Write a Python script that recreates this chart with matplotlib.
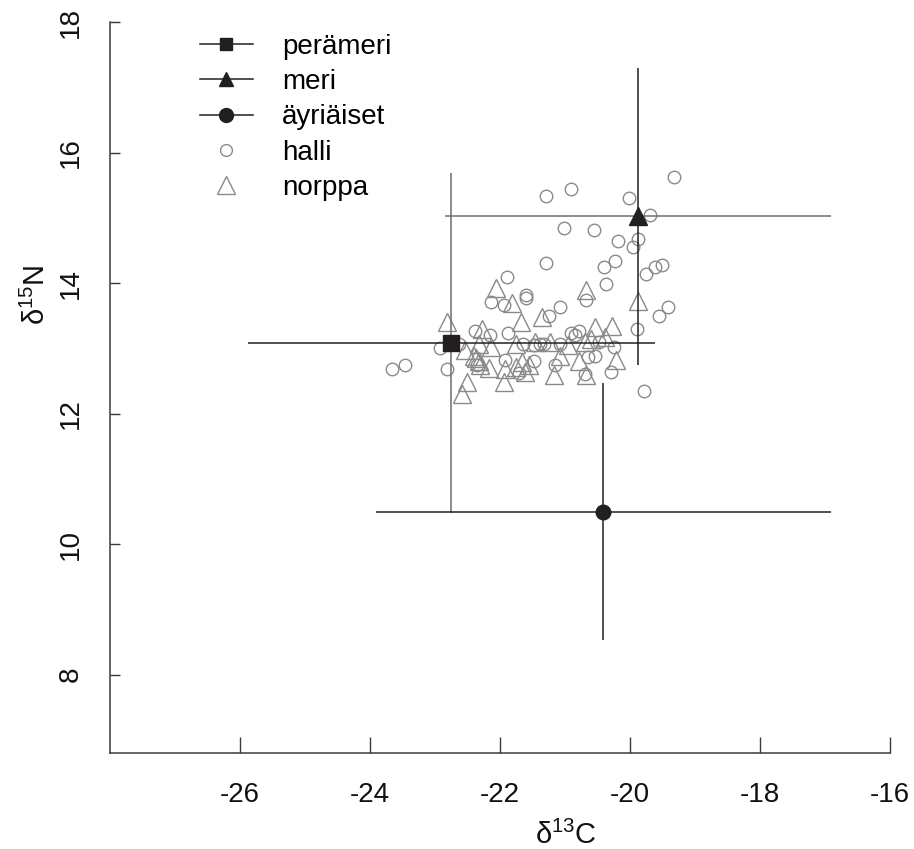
import matplotlib
matplotlib.use("Agg")
import matplotlib.pyplot as plt
from matplotlib.lines import Line2D

plt.rcParams['font.family'] = ['Liberation Sans', 'DejaVu Sans']

# ---- data ----
halli_x = [-19.33, -20.90, -21.29, -20.01, -19.69, -21.02, -20.55, -20.18, -19.87, -19.96,
           -21.29, -20.40, -20.23, -19.75, -19.62, -19.50, -21.89, -20.37, -21.60, -21.60,
           -22.14, -21.94, -20.68, -21.07, -21.24, -19.42, -19.56, -22.39, -22.16, -21.88,
           -19.89, -20.90, -20.79, -20.84, -22.93, -22.63, -21.64, -21.48, -21.38, -21.32,
           -21.07, -20.48, -20.25, -23.66, -23.46, -22.81, -21.93, -21.48, -21.15, -20.65,
           -20.54, -20.29, -21.71, -19.78, -22.35, -20.69]
halli_y = [15.62, 15.44, 15.33, 15.31, 15.05, 14.85, 14.81, 14.65, 14.68, 14.56,
           14.31, 14.25, 14.34, 14.14, 14.25, 14.27, 14.10, 13.99, 13.82, 13.77,
           13.71, 13.66, 13.74, 13.63, 13.49, 13.63, 13.49, 13.26, 13.21, 13.23,
           13.29, 13.23, 13.27, 13.20, 13.00, 13.06, 13.06, 13.05, 13.07, 13.06,
           13.07, 13.09, 13.02, 12.68, 12.74, 12.68, 12.82, 12.80, 12.75, 12.86,
           12.89, 12.63, 12.62, 12.35, 12.75, 12.61]

norppa_x = [-22.06, -21.81, -20.67, -22.82, -21.67, -21.36, -19.87, -22.27, -20.54, -20.28,
            -22.54, -22.33, -22.14, -21.76, -21.46, -21.23, -20.69, -20.38, -22.40, -22.33,
            -22.17, -21.92, -21.76, -21.66, -21.61, -21.07, -20.79, -20.21, -21.17, -20.68,
            -22.50, -21.94, -22.59, -22.37, -22.30, -21.55, -20.95, -20.60]
norppa_y = [13.93, 13.69, 13.89, 13.41, 13.41, 13.48, 13.73, 13.30, 13.33, 13.34,
            12.98, 13.07, 13.02, 13.07, 13.10, 13.10, 13.10, 13.17, 12.89, 12.80,
            12.70, 12.69, 12.71, 12.79, 12.63, 12.88, 12.80, 12.82, 12.59, 12.59,
            12.48, 12.48, 12.30, 12.85, 12.75, 12.75, 13.05, 13.15]

mean_names = ['perämeri', 'meri', 'äyriäiset']
mean_x = [-22.75, -19.87, -20.41]
mean_y = [13.08, 15.02, 10.50]
sd_x = [3.13, 2.97, 3.50]
sd_y = [2.61, 2.27, 1.97]
mean_markers = ['s', '^', 'o']
mean_msize = [11, 13, 10.5]

xticks = [-26, -24, -22, -20, -18, -16]
yticks = [8, 10, 12, 14, 16, 18]

# ---- figure ----
fig = plt.figure(figsize=(9.14, 8.49), dpi=100)
ax = fig.add_axes([110/914, 1-753/849, 780/914, 731/849])

dark = '#231f20'
gray = '#6d6e71'
pt_gray = '#8a8a8a'

ax.plot(halli_x, halli_y, linestyle='none', marker='o', markersize=9,
        markerfacecolor='none', markeredgecolor=pt_gray, markeredgewidth=1.0, zorder=2)
ax.plot(norppa_x, norppa_y, linestyle='none', marker='^', markersize=12.5,
        markerfacecolor='none', markeredgecolor=pt_gray, markeredgewidth=1.0, zorder=2)

xcols = [dark, gray, dark]
ycols = [gray, dark, dark]
for i in range(3):
    ax.errorbar(mean_x[i], mean_y[i], xerr=sd_x[i], fmt='none', ecolor=xcols[i],
                elinewidth=1.1, capsize=0, zorder=3)
    ax.errorbar(mean_x[i], mean_y[i], yerr=sd_y[i], fmt='none', ecolor=ycols[i],
                elinewidth=1.1, capsize=0, zorder=3)
    ax.plot(mean_x[i], mean_y[i], linestyle='none', marker=mean_markers[i],
            markersize=mean_msize[i], color=dark, zorder=4)

ax.set_xlim(-28, -16)
ax.set_ylim(6.8, 18)
ax.set_xticks(xticks)
ax.set_yticks(yticks)
ax.set_xticklabels([str(t) for t in xticks])
ax.set_yticklabels([str(t) for t in yticks], rotation=90, va='center')

for s in ['top', 'right']:
    ax.spines[s].set_visible(False)
for s in ['left', 'bottom']:
    ax.spines[s].set_color('#3a3a3a')
    ax.spines[s].set_linewidth(1.1)

ax.tick_params(axis='x', direction='in', length=11.5, width=1, color='#3a3a3a',
               labelsize=20, pad=21, labelcolor='#111111')
ax.tick_params(axis='y', direction='in', length=7, width=1, color='#3a3a3a',
               labelsize=20, pad=19, labelcolor='#111111')

fig.text(566/914, 1-835/849, r'δ$^{\mathregular{13}}$C', fontsize=21,
         ha='center', va='center', color='#111111')
fig.text(36/914, 1-295/849, r'δ$^{\mathregular{15}}$N', fontsize=21,
         ha='center', va='center', rotation=90, color='#111111')

handles = [
    Line2D([], [], color=dark, lw=1.1, marker='s', markersize=9),
    Line2D([], [], color=dark, lw=1.1, marker='^', markersize=10),
    Line2D([], [], color=dark, lw=1.1, marker='o', markersize=10),
    Line2D([], [], color='none', marker='o', markersize=8.5, markerfacecolor='none',
           markeredgecolor=pt_gray, markeredgewidth=1.0),
    Line2D([], [], color='none', marker='^', markersize=13, markerfacecolor='none',
           markeredgecolor=pt_gray, markeredgewidth=1.0),
]
labels = mean_names + ['halli', 'norppa']
ax.legend(handles, labels, loc='upper left', bbox_to_anchor=(90/780, 1 - 12/731),
          frameon=False, fontsize=20, handlelength=1.9, handletextpad=1.05,
          labelspacing=0.33, borderpad=0, borderaxespad=0)

fig.savefig('out.png', dpi=100)
